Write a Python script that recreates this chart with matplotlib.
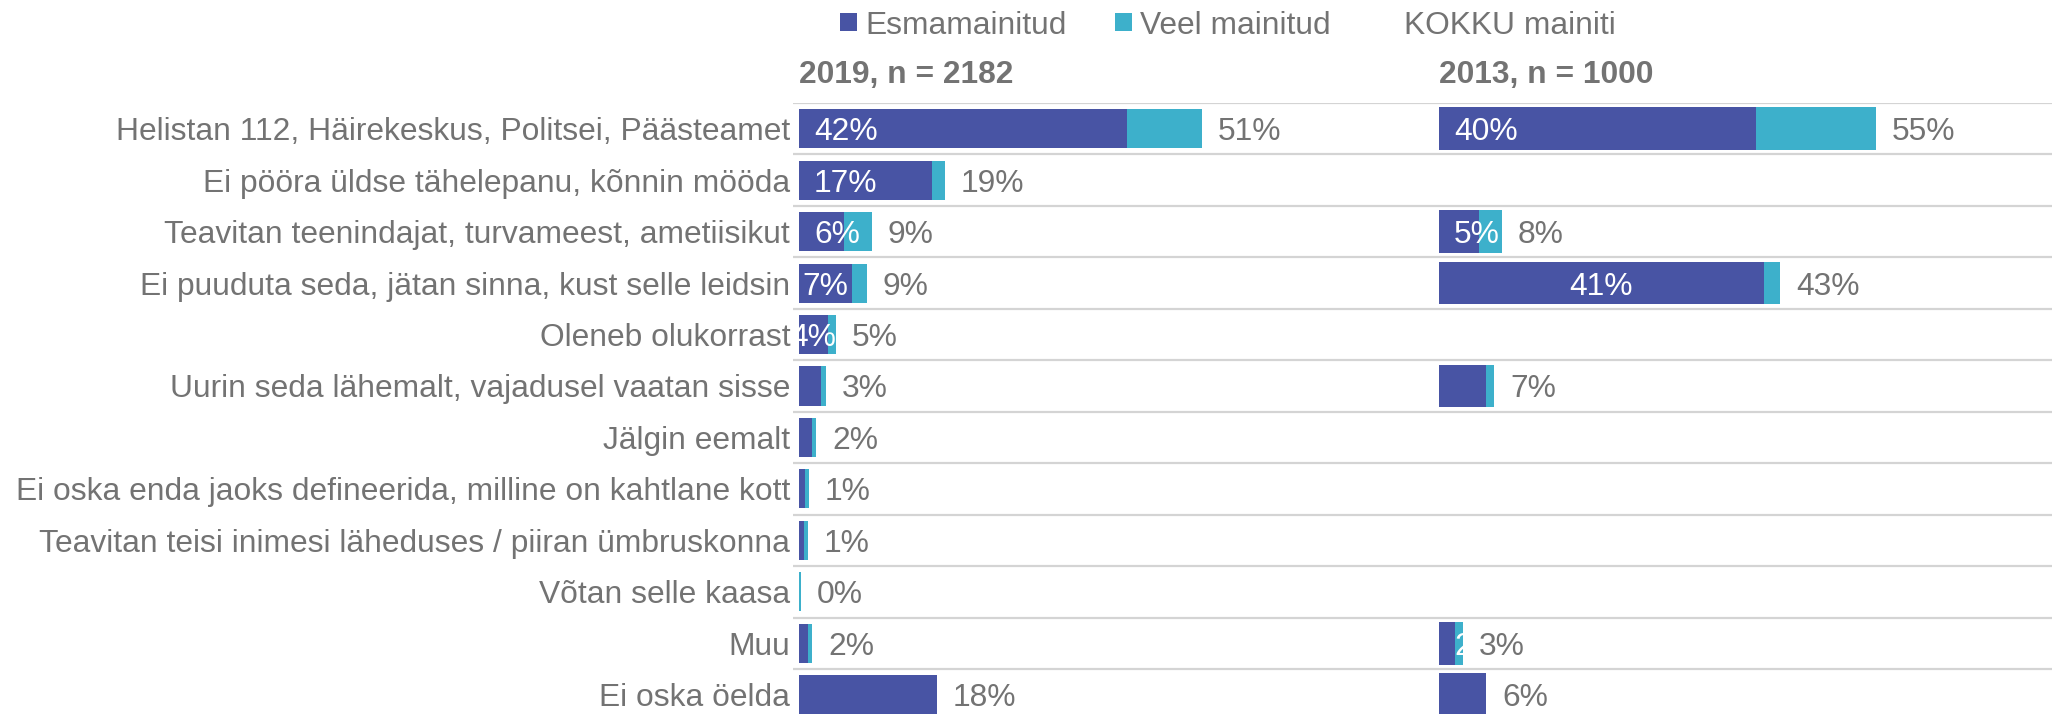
import numpy as np
import matplotlib.pyplot as plt
from matplotlib.patches import Patch, Rectangle

plt.rcParams["font.family"] = ["Liberation Sans", "DejaVu Sans"]

nan = np.nan

categories = [
    "Helistan 112, Häirekeskus, Politsei, Päästeamet",
    "Ei pööra üldse tähelepanu, kõnnin mööda",
    "Teavitan teenindajat, turvameest, ametiisikut",
    "Ei puuduta seda, jätan sinna, kust selle leidsin",
    "Oleneb olukorrast",
    "Uurin seda lähemalt, vajadusel vaatan sisse",
    "Jälgin eemalt",
    "Ei oska enda jaoks defineerida, milline on kahtlane kott",
    "Teavitan teisi inimesi läheduses / piiran ümbruskonna",
    "Võtan selle kaasa",
    "Muu",
    "Ei oska öelda",
]

# 2019, n = 2182
first_2019 = [41.5, 16.8, 5.7, 6.7, 3.7, 2.8, 1.6, 0.8, 0.6, 0.05, 1.2, 17.5]
total_2019 = [51.0, 18.5, 9.2, 8.6, 4.7, 3.4, 2.2, 1.3, 1.1, 0.2, 1.7, 17.5]
total_lbl_2019 = [51, 19, 9, 9, 5, 3, 2, 1, 1, 0, 2, 18]
inner_lbl_2019 = [42, 17, 6, 7, 4, None, None, None, None, None, None, None]

# 2013, n = 1000
first_2013 = [40.1, nan, 5.1, 41.1, nan, 6.0, nan, nan, nan, nan, 2.0, 6.0]
total_2013 = [55.3, nan, 8.0, 43.2, nan, 7.0, nan, nan, nan, nan, 3.05, 6.0]
total_lbl_2013 = [55, None, 8, 43, None, 7, None, None, None, None, 3, 6]
inner_lbl_2013 = [40, None, 5, 41, None, None, None, None, None, None, 2, None]

series_names = ["Esmamainitud", "Veel mainitud", "KOKKU mainiti"]
panel_titles = ["2019, n = 2182", "2013, n = 1000"]

DARK = "#4854a4"
CYAN = "#3db0cb"
GRAY = "#737373"
GRID = "#d4d4d4"
FS = 22.9

W, H = 2052, 714
PX = 7.9  # pixels per percent point
fig = plt.figure(figsize=(W / 100, H / 100), dpi=100)

top = 103
pitch = 51.45
bottom = top + 12 * pitch
ax_b = (H - bottom) / H
ax_h = (bottom - top) / H

ax1 = fig.add_axes([793 / W, ax_b, (1433 - 793) / W, ax_h])
ax2 = fig.add_axes([1433 / W, ax_b, (W - 1433) / W, ax_h])
ax1.set_xlim(-6 / PX, -6 / PX + 640 / PX)
ax2.set_xlim(-6 / PX, -6 / PX + (W - 1433) / PX)

y = np.arange(len(categories))


def draw_panel(ax, first, total, total_lbl, inner_lbl, title, height, centered):
    first = np.array(first, dtype=float)
    total = np.array(total, dtype=float)
    ok = ~np.isnan(first)
    ax.barh(y[ok], first[ok], height=height, color=DARK, zorder=2)
    ax.barh(y[ok], (total - first)[ok], left=first[ok], height=height,
            color=CYAN, zorder=2)
    for i in range(len(y)):
        if total_lbl[i] is not None:
            ax.text(total[i] + 2.0, y[i], f"{total_lbl[i]}%", color=GRAY,
                    fontsize=FS, ha="left", va="center_baseline", zorder=4)
        if inner_lbl[i] is not None:
            if i in centered:
                t = ax.text(first[i] / 2, y[i], f"{inner_lbl[i]}%",
                            color="white", fontsize=FS, ha="center",
                            va="center_baseline", zorder=3)
            else:
                t = ax.text(1.9, y[i], f"{inner_lbl[i]}%", color="white",
                            fontsize=FS, ha="left", va="center_baseline",
                            zorder=3)
            # white label only shows where it lies on the bar
            clip = Rectangle((0, y[i] - height / 2), total[i], height,
                             transform=ax.transData)
            t.set_clip_path(clip)
    for k in range(len(y) + 1):
        ax.axhline(k - 0.5, color=GRID, lw=1.6, zorder=1)
    ax.set_ylim(len(y) - 0.5, -0.5)
    for s in ax.spines.values():
        s.set_visible(False)
    ax.set_xticks([])
    ax.annotate(title, xy=(0, 1), xycoords=("data", "axes fraction"),
                xytext=(0, 20), textcoords="offset points",
                fontsize=FS, fontweight="bold", color=GRAY,
                ha="left", va="center")


draw_panel(ax1, first_2019, total_2019, total_lbl_2019, inner_lbl_2019,
           panel_titles[0], 0.76, {3, 4})
draw_panel(ax2, first_2013, total_2013, total_lbl_2013, inner_lbl_2013,
           panel_titles[1], 0.83, {3})

ax1.set_yticks(y)
ax1.set_yticklabels(categories, fontsize=FS, color=GRAY)
ax1.tick_params(axis="y", length=0, pad=2)
ax2.set_yticks([])

handles = [Patch(facecolor=DARK), Patch(facecolor=CYAN),
           Patch(facecolor="none", edgecolor="none")]
fig.legend(handles, series_names, ncol=3, loc="center left",
           bbox_to_anchor=(840 / W, 1 - 25.5 / H), frameon=False,
           borderpad=0, borderaxespad=0, handlelength=0.55, handleheight=0.5,
           handletextpad=0.25, columnspacing=1.5, fontsize=FS,
           labelcolor=GRAY)

fig.savefig("out.png", dpi=100)
